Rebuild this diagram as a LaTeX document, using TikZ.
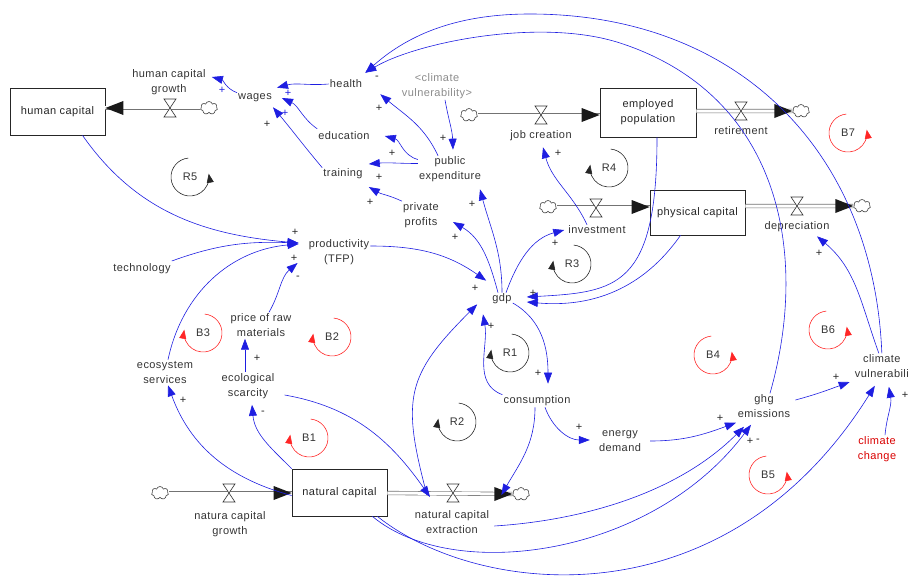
\documentclass[tikz,border=0pt]{standalone}
\usepackage{fontspec}
\setmainfont{Liberation Sans}[LetterSpace=4]
\usetikzlibrary{arrows.meta,shapes.symbols}
\definecolor{lnkblue}{RGB}{30,30,225}
\newcommand{\mkvalve}[1]{\draw[valvestyle] (#1) ++(-6,9) -- ++(12,0) -- ++(-12,-18) -- ++(12,0) -- cycle;}
\newcommand{\mkhead}[2]{\fill[black!90] (#1) -- ++({#2*18},7) -- ++(0,-14) -- cycle;}
\begin{document}
\begin{tikzpicture}[x=1pt,y=1pt,
 every node/.style={inner sep=1pt},
 txt/.style={font=\fontsize{11}{15}\selectfont, text=black!80, align=center},
 gtxt/.style={txt, text=black!45},
 rtxt/.style={txt, text=red!85!black},
 stock/.style={draw=black!85, line width=0.7pt, fill=white, font=\fontsize{11}{15}\selectfont, text=black!85, align=center, minimum width=95pt, minimum height=47pt},
 lnk/.style={draw=lnkblue, line width=0.6pt, -{Triangle[length=11pt,width=8pt]}},
 pipe/.style={draw=black!55, line width=0.6pt, double=white, double distance=3pt},
 valvestyle/.style={draw=black!80, line width=0.6pt, fill=white},
 cld/.style={cloud, cloud puffs=7, draw=black!75, line width=0.6pt, fill=white, minimum width=17pt, minimum height=13pt, inner sep=0pt, aspect=1.3},
 sgn/.style={font=\fontsize{11}{11}\selectfont, text=black!85, inner sep=0pt},
 bsgn/.style={sgn, text=lnkblue},
 loopR/.style={draw=black!85, line width=0.6pt, -{Triangle[length=9pt,width=7pt]}},
 loopB/.style={draw=red!85, line width=0.6pt, -{Triangle[length=9pt,width=7pt]}},
 looplbl/.style={font=\fontsize{11}{12}\selectfont, text=black!80}
]
\useasboundingbox (0,0) rectangle (910,-578);
\clip (0,0) rectangle (910,-578);

% ---------- stocks
\node[stock] (hc) at (57.5,-111.5) {human capital};
\node[stock, minimum width=96pt, minimum height=49pt] (ep) at (648,-112.5) {employed\\population};
\node[stock, minimum height=45pt] (pc) at (697.5,-212.5) {physical capital};
\node[stock] (nc) at (339.5,-492.5) {natural capital};

% ---------- clouds
\node[cld] (c1) at (209,-108) {};
\node[cld] (c2) at (469,-115) {};
\node[cld] (c3) at (801,-111) {};
\node[cld] (c4) at (548,-207) {};
\node[cld] (c5) at (862,-206) {};
\node[cld] (c6) at (160,-493) {};
\node[cld] (c7) at (521,-494) {};

% ---------- valves
\coordinate (v1) at (170,-108);
\coordinate (v2) at (541,-115);
\coordinate (v3) at (741,-111);
\coordinate (v4) at (596,-208);
\coordinate (v5) at (797,-206);
\coordinate (v6) at (229,-493);
\coordinate (v7) at (453,-493);

% ---------- pipes
\draw[pipe] (c1.west) -- (c1.west -| hc.east);
\draw[pipe] (c2.east) -- (c2.east -| ep.west);
\draw[pipe] (v3 -| ep.east) -- (c3.west);
\draw[pipe] (c4.east) -- (c4.east -| pc.west);
\draw[pipe] (v5 -| pc.east) -- (c5.west);
\draw[pipe] (c6.east) -- (c6.east -| nc.west);
\draw[pipe] (v7 -| nc.east) -- (c7.west);
\mkhead{c1.west -| hc.east}{1}
\mkhead{c2.east -| ep.west}{-1}
\mkhead{c3.west}{-1}
\mkhead{c4.east -| pc.west}{-1}
\mkhead{c5.west}{-1}
\mkhead{c6.east -| nc.west}{-1}
\mkhead{c7.west}{-1}
\mkvalve{v1}
\mkvalve{v2}
\mkvalve{v3}
\mkvalve{v4}
\mkvalve{v5}
\mkvalve{v6}
\mkvalve{v7}

% ---------- flow labels
\node[txt] (hcgl) at (169,-82) {human capital\\growth};
\node[txt] (jcl) at (541,-136) {job creation};
\node[txt] (retl) at (741,-131) {retirement};
\node[txt] (invl) at (597,-230) {investment};
\node[txt] (depl) at (797,-227) {depreciation};
\node[txt] (ncgl) at (230,-524) {natura capital\\growth};
\node[txt] (ncel) at (452,-522) {natural capital\\extraction};

% ---------- auxiliaries
\node[txt] (wages) at (255,-98) {wages};
\node[txt] (health) at (346,-84) {health};
\node[gtxt] (cvul2) at (437,-86) {<climate\\vulnerability>};
\node[txt] (education) at (344,-136) {education};
\node[txt] (training) at (343,-174) {training};
\node[txt] (pubexp) at (450,-169.5) {public\\expenditure};
\node[txt] (privprof) at (421,-215) {private\\profits};
\node[txt] (prod) at (339,-252) {productivity\\(TFP)};
\node[txt] (technology) at (142,-269) {technology};
\node[txt] (gdp) at (502,-299) {gdp};
\node[txt] (price) at (261,-325) {price of raw\\materials};
\node[txt] (ecoserv) at (165,-372) {ecosystem\\services};
\node[txt] (ecoscar) at (248,-386) {ecological\\scarcity};
\node[txt] (consumption) at (537,-401) {consumption};
\node[txt] (energy) at (620,-441) {energy\\demand};
\node[txt] (ghg) at (764,-406) {ghg\\emissions};
\node[rtxt] (climchange) at (877,-449) {climate\\change};
\node[txt, anchor=east] (climvul) at (910,-366) {climate\\vulnerabili};

% ---------- links
\draw[lnk] (wages.north west) to[out=160,in=-15] ([shift={(5,5)}]hcgl.east);
\draw[lnk] (health.west) to[out=185,in=15] ([shift={(4,5)}]wages.north east);
\draw[lnk] ([yshift=2]education.north west) to[out=145,in=-25] ([xshift=9]wages.east);
\draw[lnk] (training.north west) to[out=130,in=-50] ([shift={(0,-4)}]wages.south east);
\draw[lnk] ([xshift=-12]pubexp.north) to[out=115,in=-40] ([shift={(17,-5)}]health.south east);
\draw[lnk] ([yshift=10]pubexp.west) to[out=165,in=-15] ([xshift=14]education.east);
\draw[lnk] ([yshift=6]pubexp.west) to[out=180,in=5] ([shift={(5,10)}]training.east);
\draw[lnk] ([xshift=8]cvul2.south) to[out=-80,in=92] ([shift={(3,6)}]pubexp.north);
\draw[lnk] (privprof.north west) to[out=155,in=-30] ([shift={(5,-13)}]training.east);
\draw[lnk] ([xshift=-4]gdp.north) to[out=105,in=-30] ([shift={(13,-7)}]privprof.east);
\draw[lnk] (gdp.north) to[out=90,in=-75] ([shift={(30,-6)}]pubexp.south);
\draw[lnk] ([xshift=4]gdp.north) to[out=70,in=195] ([xshift=-3]invl.west);
\draw[lnk] ([xshift=-10]invl.north) to[out=115,in=-75] ([shift={(2,-5)}]jcl.south);
\draw[lnk] ([xshift=9]ep.south) .. controls +(0,-150) and +(90,5) .. ([shift={(14,2)}]gdp.east);
\draw[lnk] ([xshift=-17]pc.south) to[out=-125,in=-5] ([shift={(14,-3)}]gdp.east);
\draw[lnk] ([yshift=6]prod.east) to[out=0,in=145] ([shift={(-5,12)}]gdp.north west);
\draw[lnk] ([xshift=25]hc.south) to[out=-55,in=175] ([shift={(-9,9)}]prod.west);
\draw[lnk] ([yshift=8]technology.east) to[out=20,in=178] ([shift={(-9,9)}]prod.west);
\draw[lnk] ([xshift=3]ecoserv.north) to[out=78,in=185] ([shift={(-9,8)}]prod.west);
\draw[lnk] ([xshift=8]price.north) to[out=60,in=220] ([shift={(-10,-11)}]prod.west);
\draw[lnk] ([xshift=-3]ecoscar.north) -- ([shift={(-16,-1)}]price.south);
\draw[lnk] (nc.north west) to[out=135,in=-85] ([shift={(4,-5)}]ecoscar.south);
\draw[lnk] ([yshift=-3]nc.west) to[out=165,in=-70] ([shift={(3,-1)}]ecoserv.south);
\draw[lnk] ([shift={(9,-9)}]ecoscar.east) to[out=-10,in=125] ([shift={(-23,-4)}]v7);
\draw[lnk] ([shift={(-26,-2)}]v7) to[out=105,in=225,looseness=1.3] ([shift={(-14,1)}]gdp.south west);
\draw[lnk] (consumption.north west) to[out=160,in=-80] ([shift={(-19,-9)}]gdp.south);
\draw[lnk] ([yshift=-4]gdp.east) to[out=-30,in=90] ([shift={(11,11)}]consumption.north);
\draw[lnk] ([xshift=8]consumption.south) to[out=-70,in=180] ([shift={(-8,1)}]energy.west);
\draw[lnk] ([xshift=-2]consumption.south) to[out=-90,in=60] ([shift={(-11,-1)}]c7.west);
\draw[lnk] ([xshift=8]energy.east) to[out=0,in=200] ([shift={(-28,-4)}]ghg.south);
\draw[lnk] ([shift={(4,-4)}]ncel.east) .. controls +(80,5) and +(-70,-70) .. ([shift={(-20,-8)}]ghg.south);
\draw[lnk] ([xshift=-15]nc.south east) .. controls +(80,-67) and +(-100,-133) .. ([shift={(-13,-6)}]ghg.south);
\draw[lnk] ([xshift=-10]nc.south east) .. controls +(100,-80) and +(-150,-240) .. ([shift={(-7,-7)}]climvul.south);
\draw[lnk] ([xshift=8]climchange.north) to[out=85,in=-80] ([shift={(7,-8)}]climvul.south);
\draw[lnk] ([shift={(4,6)}]ghg.east) to[out=15,in=200] ([shift={(-4,-16)}]climvul.west);
\draw[lnk] ([xshift=-3]climvul.north) to[out=110,in=-40] ([shift={(20,-3)}]depl.south);
\coordinate (top1) at (530,-14);
\coordinate (top2) at (620,-43);
\draw[lnk] ([xshift=0]climvul.north) .. controls +(-8,200) and +(210,0) .. (top1) .. controls +(-70,0) and +(45,40) .. ([shift={(2,6)}]health.north east);
\draw[lnk] ([xshift=6]ghg.north) .. controls +(40,140) and +(160,-52) .. (top2) .. controls +(-80,26) and +(50,30) .. ([shift={(2,6)}]health.north east);

% ---------- polarity signs
\node[bsgn] (s1) at (222,-90) {+};
\node[bsgn] (s2) at (288,-93) {+};
\node[bsgn] (s3) at (285,-113) {+};
\node[sgn] (s4) at (267,-124) {+};
\node[sgn] (s5) at (377,-78) {-};
\node[sgn] (s6) at (379,-108) {+};
\node[sgn] (s7) at (443,-138) {+};
\node[sgn] (s8) at (392,-153) {+};
\node[sgn] (s9) at (379,-177) {+};
\node[sgn] (s10) at (370,-202) {+};
\node[sgn] (s11) at (472,-204) {+};
\node[sgn] (s12) at (455,-237) {+};
\node[sgn] (s13) at (555,-243) {+};
\node[sgn] (s14) at (558,-153) {+};
\node[sgn] (s15) at (533,-293) {+};
\node[sgn] (s16) at (475,-288) {+};
\node[sgn] (s17) at (491,-326) {+};
\node[sgn] (s18) at (295,-232) {+};
\node[sgn] (s19) at (294,-258) {+};
\node[sgn] (s20) at (298,-278) {-};
\node[sgn] (s21) at (257,-358) {+};
\node[sgn] (s22) at (263,-413) {-};
\node[sgn] (s23) at (183,-400) {+};
\node[sgn] (s24) at (538,-373) {+};
\node[sgn] (s25) at (579,-427) {+};
\node[sgn] (s26) at (720,-418) {+};
\node[sgn] (s27) at (750,-441) {+};
\node[sgn] (s28) at (758,-441) {-};
\node[sgn] (s29) at (836,-377) {+};
\node[sgn] (s30) at (905,-395) {+};
\node[sgn] (s31) at (819,-253) {+};

% ---------- loops
\node[looplbl] (lR5) at (190,-177) {R5};
\draw[loopR] (lR5.center) ++(95:19) arc[start angle=95, end angle=370, radius=19];
\node[looplbl] (lR4) at (609,-168) {R4};
\draw[loopR] (lR4.center) ++(85:19) arc[start angle=85, end angle=-190, radius=19];
\node[looplbl] (lB7) at (848,-133) {B7};
\draw[loopB] (lB7.center) ++(95:19) arc[start angle=95, end angle=370, radius=19];
\node[looplbl] (lR3) at (572,-264) {R3};
\draw[loopR] (lR3.center) ++(85:19) arc[start angle=85, end angle=-190, radius=19];
\node[looplbl] (lB3) at (203,-333) {B3};
\draw[loopB] (lB3.center) ++(85:19) arc[start angle=85, end angle=-190, radius=19];
\node[looplbl] (lB2) at (332,-337) {B2};
\draw[loopB] (lB2.center) ++(85:19) arc[start angle=85, end angle=-190, radius=19];
\node[looplbl] (lR1) at (510,-353) {R1};
\draw[loopR] (lR1.center) ++(85:19) arc[start angle=85, end angle=-190, radius=19];
\node[looplbl] (lB4) at (713,-355) {B4};
\draw[loopB] (lB4.center) ++(95:19) arc[start angle=95, end angle=370, radius=19];
\node[looplbl] (lB6) at (828,-330) {B6};
\draw[loopB] (lB6.center) ++(95:19) arc[start angle=95, end angle=370, radius=19];
\node[looplbl] (lR2) at (457,-422) {R2};
\draw[loopR] (lR2.center) ++(85:19) arc[start angle=85, end angle=-190, radius=19];
\node[looplbl] (lB1) at (309,-438) {B1};
\draw[loopB] (lB1.center) ++(85:19) arc[start angle=85, end angle=-190, radius=19];
\node[looplbl] (lB5) at (768,-475) {B5};
\draw[loopB] (lB5.center) ++(95:19) arc[start angle=95, end angle=370, radius=19];
\end{tikzpicture}
\end{document}
